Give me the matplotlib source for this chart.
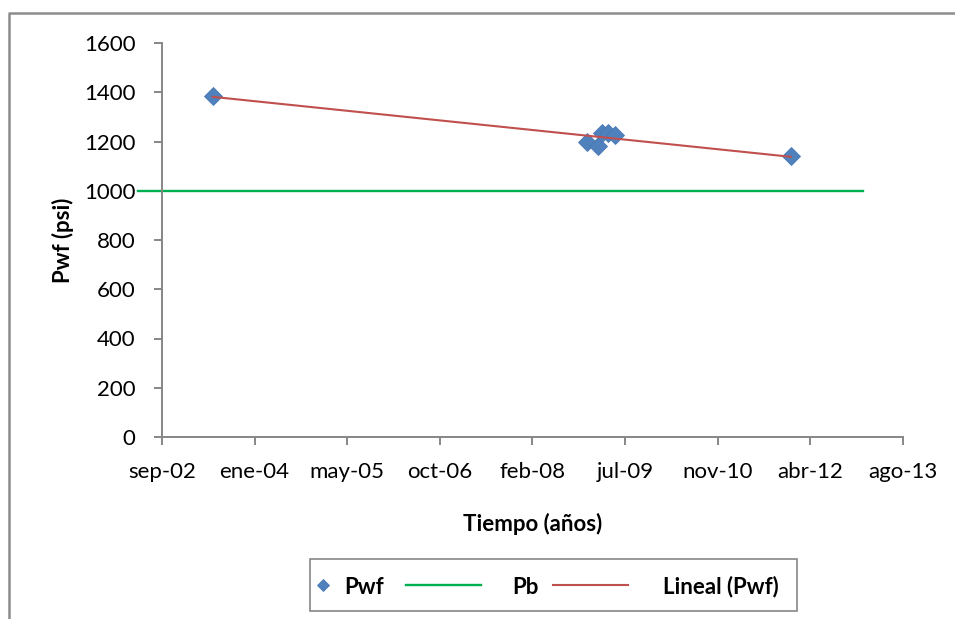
import numpy as np
import matplotlib
matplotlib.use("Agg")
import matplotlib.pyplot as plt
import matplotlib.dates as mdates
from matplotlib.lines import Line2D
from matplotlib.patches import Rectangle

plt.rcParams['font.family'] = ['Lato', 'DejaVu Sans']

# Measured bottom-hole flowing pressure
pwf_dates = np.array(['2003-06-02', '2008-12-15', '2009-02-12', '2009-03-02',
                      '2009-04-07', '2009-05-13', '2011-12-19'], dtype='datetime64[D]')
pwf_values = [1386, 1199, 1180, 1235, 1235, 1228, 1143]

# Bubble-point pressure reference line
pb_dates = np.array(['2002-04-24', '2013-01-12'], dtype='datetime64[D]')
pb_values = [1000, 1000]

# Date axis: ticks every 500 days from sep-02
x_start = np.datetime64('2002-09-01')
tick_step_days = 500
x_tick_labels = ['sep-02', 'ene-04', 'may-05', 'oct-06', 'feb-08',
                 'jul-09', 'nov-10', 'abr-12', 'ago-13']
y_ticks = [0, 200, 400, 600, 800, 1000, 1200, 1400, 1600]
legend_labels = ['Pwf', 'Pb', 'Lineal (Pwf)']

W, H = 955, 619
FS = 16
fig = plt.figure(figsize=(W / 100, H / 100), dpi=100)
ax = fig.add_axes([162 / W, 1 - 437 / H, (902.7 - 162) / W, (437 - 43) / H])


def to_num(d):
    return mdates.date2num(np.asarray(d).astype('datetime64[s]').astype(object))


xn_pwf = to_num(pwf_dates)
xn_pb = to_num(pb_dates)
x0 = to_num(x_start)
x_ticks = [x0 + i * tick_step_days for i in range(len(x_tick_labels))]

blue = '#4F81BD'
blue_edge = '#4A7AB5'
green = '#00B050'
red = '#C0504D'
gray = '#868686'

# Pb horizontal line
ax.plot(xn_pb, pb_values, color=green, lw=1.7, clip_on=False, zorder=2)

# Linear trend of Pwf
coef = np.polyfit(xn_pwf, pwf_values, 1)
xt = np.array([xn_pwf.min(), xn_pwf.max()])
ax.plot(xt, np.polyval(coef, xt), color=red, lw=1.5, zorder=4)

# Pwf points
ax.plot(xn_pwf, pwf_values, linestyle='none', marker='D', ms=9.5,
        mfc=blue, mec=blue_edge, mew=0.6, zorder=3)

ax.set_xlim(x_ticks[0], x_ticks[-1])
ax.set_ylim(0, 1600)
ax.set_xticks(x_ticks)
ax.set_xticklabels(x_tick_labels)
ax.set_yticks(y_ticks)
ax.set_yticklabels([str(v) for v in y_ticks])

for side in ('top', 'right'):
    ax.spines[side].set_visible(False)
for side in ('left', 'bottom'):
    ax.spines[side].set_color(gray)
    ax.spines[side].set_linewidth(1.4)
ax.tick_params(axis='both', colors=gray, width=1.4, length=6, labelsize=FS,
               labelcolor='black')
ax.tick_params(axis='y', pad=13)
ax.tick_params(axis='x', pad=12)

ax.set_ylabel('Pwf (psi)', fontsize=FS, fontweight='bold', labelpad=7)
ax.set_xlabel('Tiempo (años)', fontsize=FS, fontweight='bold', labelpad=22)

# Legend, laid out in figure pixel coordinates
def fx(px):
    return px / W


def fy(py):
    return 1 - py / H


ly = 585
fig.add_artist(Rectangle((fx(310), fy(611)), fx(797) - fx(310), fy(559) - fy(611),
                         transform=fig.transFigure, fill=False,
                         edgecolor=gray, lw=1.2))
fig.add_artist(Line2D([fx(323)], [fy(ly)], transform=fig.transFigure,
                      linestyle='none', marker='D', ms=6.3, mfc=blue,
                      mec=blue_edge, mew=0.6))
fig.add_artist(Line2D([fx(406), fx(481)], [fy(ly), fy(ly)],
                      transform=fig.transFigure, color=green, lw=1.7))
fig.add_artist(Line2D([fx(553), fx(628)], [fy(ly), fy(ly)],
                      transform=fig.transFigure, color=red, lw=1.5))
for xpos, lab in zip([344, 512, 663], legend_labels):
    fig.text(fx(xpos), fy(ly), lab, fontsize=FS, fontweight='bold',
             ha='left', va='center_baseline')

# Chart-area border (left and top edges visible)
fig.add_artist(Line2D([9 / W, 9 / W, 1.0], [0.0, 1 - 13 / H, 1 - 13 / H],
                      transform=fig.transFigure, color='#8c8c8c', lw=1.8))

fig.savefig('out.png', dpi=100)
